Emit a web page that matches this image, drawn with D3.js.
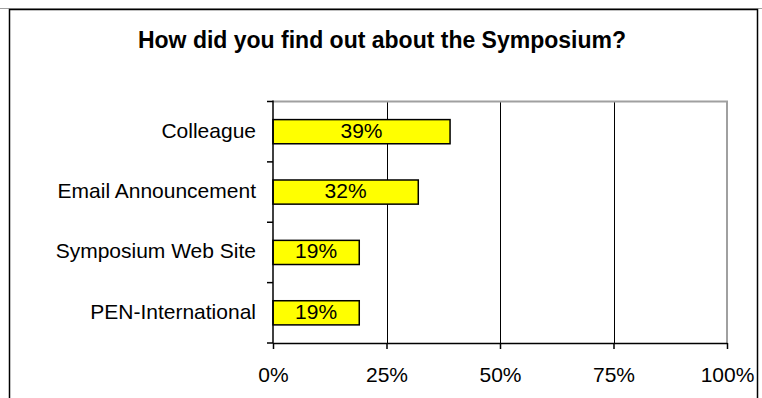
<!DOCTYPE html>
<html>
<head>
<meta charset="utf-8">
<script src="https://cdn.jsdelivr.net/npm/d3@7"></script>
<style>
  body { margin: 0; background: #fff; }
  svg text { font-family: "Liberation Sans", Arial, sans-serif; fill: #000; }
</style>
</head>
<body>
<div id="chart"></div>
<script>
const title = "How did you find out about the Symposium?";
const categories = ["Colleague", "Email Announcement", "Symposium Web Site", "PEN-International"];
const values = [0.39, 0.32, 0.19, 0.19];
const tickValues = [0, 0.25, 0.5, 0.75, 1];

const width = 762;
const height = 398;
const plot = { left: 273, right: 727, top: 101.5, bottom: 343 };

const svg = d3.select("#chart")
  .append("svg")
  .attr("width", width)
  .attr("height", height);

// outer frame
svg.append("line")
  .attr("x1", 0).attr("x2", width)
  .attr("y1", 8.5).attr("y2", 8.5)
  .style("stroke", "#a0a0a0");
svg.append("rect")
  .attr("x", 9.5).attr("y", 9.5)
  .attr("width", 748).attr("height", 400)
  .style("fill", "none")
  .style("stroke", "#000")
  .style("stroke-width", 1.5);

svg.append("text")
  .attr("x", width / 2 + 1)
  .attr("y", 48)
  .attr("text-anchor", "middle")
  .style("font-size", "23px")
  .style("font-weight", "bold")
  .text(title);

const x = d3.scaleLinear()
  .domain([0, 1])
  .range([plot.left, plot.right]);

const y = d3.scaleBand()
  .domain(categories)
  .range([plot.top, plot.bottom])
  .paddingInner(0.6)
  .paddingOuter(0.3);

// gridlines
svg.selectAll(".grid")
  .data(tickValues.slice(1, -1))
  .enter()
  .append("line")
  .attr("x1", d => Math.round(x(d)) + 0.5)
  .attr("x2", d => Math.round(x(d)) + 0.5)
  .attr("y1", plot.top)
  .attr("y2", plot.bottom)
  .style("stroke", "#000")
  .style("stroke-width", 1);

// plot border top/right
svg.append("path")
  .attr("d", `M${plot.left},${plot.top}H${plot.right}V${plot.bottom}`)
  .style("fill", "none")
  .style("stroke", "#a0a0a0")
  .style("stroke-width", 2);

// bars
svg.selectAll(".bar")
  .data(categories)
  .enter()
  .append("rect")
  .attr("x", x(0))
  .attr("y", d => y(d))
  .attr("width", (d, i) => x(values[i]) - x(0))
  .attr("height", y.bandwidth())
  .style("fill", "#ffff00")
  .style("stroke", "#000")
  .style("stroke-width", 1.5);

svg.selectAll(".bar-label")
  .data(categories)
  .enter()
  .append("text")
  .attr("x", (d, i) => (x(0) + x(values[i])) / 2)
  .attr("y", d => y(d) + y.bandwidth() / 2 + 6)
  .attr("text-anchor", "middle")
  .style("font-size", "21px")
  .text((d, i) => d3.format(".0%")(values[i]));

// left axis with ticks on band boundaries
const gap = (y.step() - y.bandwidth()) / 2;
const bounds = categories.map(c => y(c) - gap).concat([plot.bottom]);

svg.append("line")
  .attr("x1", plot.left).attr("x2", plot.left)
  .attr("y1", plot.top - 1).attr("y2", plot.bottom)
  .style("stroke", "#000")
  .style("stroke-width", 1.5);

svg.selectAll(".ytick")
  .data(bounds)
  .enter()
  .append("line")
  .attr("x1", plot.left - 6).attr("x2", plot.left)
  .attr("y1", d => d).attr("y2", d => d)
  .style("stroke", "#000")
  .style("stroke-width", 1.5);

svg.selectAll(".cat-label")
  .data(categories)
  .enter()
  .append("text")
  .attr("x", plot.left - 17)
  .attr("y", d => y(d) + y.bandwidth() / 2 + 6)
  .attr("text-anchor", "end")
  .style("font-size", "21px")
  .text(d => d);

// bottom axis
const xAxis = svg.append("g")
  .attr("transform", `translate(0,${plot.bottom})`)
  .call(d3.axisBottom(x)
    .tickValues(tickValues)
    .tickFormat(d3.format(".0%"))
    .tickSize(6)
    .tickSizeOuter(0)
    .tickPadding(18));

xAxis.select(".domain").style("stroke", "#000").style("stroke-width", 1.5);
xAxis.selectAll(".tick line").style("stroke", "#000").style("stroke-width", 1.5);
xAxis.selectAll(".tick text")
  .style("font-size", "21px")
  .style("font-family", "'Liberation Sans', Arial, sans-serif")
  .style("fill", "#000");
</script>
</body>
</html>
